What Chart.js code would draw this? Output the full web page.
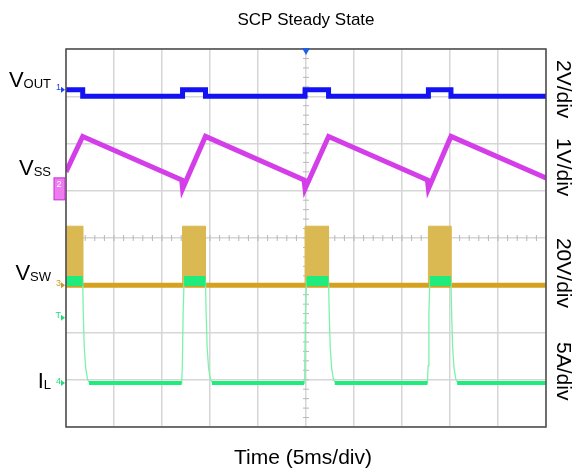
<!DOCTYPE html>
<html>
<head>
<meta charset="utf-8">
<script src="https://cdn.jsdelivr.net/npm/chart.js@4/dist/chart.umd.min.js"></script>
<style>
  html, body { margin: 0; padding: 0; background: #fff; }
  canvas { display: block; }
</style>
</head>
<body>
<canvas id="scope" width="576" height="470"></canvas>
<script>
// time in ms (5 ms/div), level in screen divisions (8 div, center = 0)

// VOUT (ch1, blue)
const voutTime  = [0, 1.74, 1.74, 12.14, 12.14, 14.53, 14.53, 24.9, 24.9, 27.35, 27.35, 37.75, 37.75, 40.1, 40.1, 50];
const voutLevel = [3.14, 3.14, 3.0, 3.0, 3.14, 3.14, 3.0, 3.0, 3.14, 3.14, 3.0, 3.0, 3.14, 3.14, 3.0, 3.0];

// VSS (ch2, magenta)
const vssTime  = [0, 1.74, 12.05, 12.14, 14.53, 24.8, 24.9, 27.35, 37.65, 37.75, 40.1, 50];
const vssLevel = [1.40, 2.15, 1.23, 1.04, 2.15, 1.23, 1.04, 2.15, 1.23, 1.04, 2.15, 1.27];

// VSW (ch3, gold) - switching bursts + baseline
const vswTime  = [0, 1.74, 1.74, 12.14, 12.14, 14.53, 14.53, 24.9, 24.9, 27.35, 27.35, 37.75, 37.75, 40.1, 40.1, 50];
const vswLevel = [0.25, 0.25, -1, -1, 0.25, 0.25, -1, -1, 0.25, 0.25, -1, -1, 0.25, 0.25, -1, -1];
const vswBaseTime  = [0, 50];
const vswBaseLevel = [-1, -1];

// IL (ch4, green)
const ilTime = [0, 1.74, 1.8, 1.9, 2.05, 2.25, 2.5,
                12.05, 12.12, 12.2, 12.3, 14.53, 14.6, 14.7, 14.85, 15.05, 15.3,
                24.8, 24.87, 24.95, 25.05, 27.35, 27.42, 27.52, 27.67, 27.87, 28.12,
                37.65, 37.72, 37.8, 37.9, 40.1, 40.17, 40.27, 40.42, 40.62, 40.87, 50];
const ilLevel = [-0.91, -0.91, -1.6, -2.3, -2.75, -3.0, -3.07,
                 -3.07, -2.7, -1.6, -0.91, -0.91, -1.6, -2.3, -2.75, -3.0, -3.07,
                 -3.07, -2.7, -1.6, -0.91, -0.91, -1.6, -2.3, -2.75, -3.0, -3.07,
                 -3.07, -2.7, -1.6, -0.91, -0.91, -1.6, -2.3, -2.75, -3.0, -3.07, -3.07];
const ilHighTime  = [0, 1.74, null, 12.3, 14.53, null, 25.05, 27.35, null, 37.9, 40.1];
const ilHighLevel = [-0.91, -0.91, null, -0.91, -0.91, null, -0.91, -0.91, null, -0.91, -0.91];
const ilLowTime  = [2.4, 12.05, null, 15.2, 24.8, null, 28.0, 37.65, null, 40.75, 50];
const ilLowLevel = [-3.07, -3.07, null, -3.07, -3.07, null, -3.07, -3.07, null, -3.07, -3.07];

const chanLabels = [
  { main: 'V', sub: 'OUT', level: 3.19 },
  { main: 'V', sub: 'SS',  level: 1.33 },
  { main: 'V', sub: 'SW',  level: -0.89 },
  { main: 'I', sub: 'L',   level: -3.17 }
];
const scaleLabels = [
  { text: '2V/div',  level: 3.15 },
  { text: '1V/div',  level: 1.5 },
  { text: '20V/div', level: -0.74 },
  { text: '5A/div',  level: -2.82 }
];

function pts(xs, ys) {
  return xs.map((x, i) => (x === null ? { x: NaN, y: null } : { x: x, y: ys[i] }));
}

const FONT = '"Liberation Sans", Arial, sans-serif';

const scopeDeco = {
  id: 'scopeDeco',
  beforeDatasetsDraw(chart) {
    const { ctx, scales: { x, y } } = chart;
    const cx = x.getPixelForValue(25), cy = y.getPixelForValue(0);
    ctx.save();
    ctx.strokeStyle = '#b8b8b8';
    ctx.lineWidth = 1;
    ctx.beginPath();
    for (let t = 0; t <= 50; t += 1) {
      const px = x.getPixelForValue(t);
      ctx.moveTo(px, cy - 3); ctx.lineTo(px, cy + 3);
    }
    for (let d = -4; d <= 4; d += 0.2) {
      const py = y.getPixelForValue(d);
      ctx.moveTo(cx - 3, py); ctx.lineTo(cx + 3, py);
    }
    ctx.stroke();
    ctx.restore();
  },
  afterDraw(chart) {
    const { ctx, chartArea: a, scales: { x, y } } = chart;
    ctx.save();
    // frame
    ctx.strokeStyle = '#4a4a4a';
    ctx.lineWidth = 1.5;
    ctx.strokeRect(a.left, a.top, a.right - a.left, a.bottom - a.top);

    // title + x title
    ctx.fillStyle = '#000';
    ctx.textAlign = 'center';
    ctx.textBaseline = 'alphabetic';
    ctx.font = '17px ' + FONT;
    ctx.fillText('SCP Steady State', (a.left + a.right) / 2, 25);
    ctx.font = '21px ' + FONT;
    ctx.fillText('Time (5ms/div)', (a.left + a.right) / 2 - 3, 464);

    // channel names on the left
    ctx.textAlign = 'left';
    chanLabels.forEach(l => {
      const by = y.getPixelForValue(l.level);
      ctx.font = '22px ' + FONT;
      const w1 = ctx.measureText(l.main).width;
      ctx.font = '13px ' + FONT;
      const w2 = ctx.measureText(l.sub).width;
      const x0 = 51 - w1 - w2;
      ctx.font = '22px ' + FONT;
      ctx.fillText(l.main, x0, by);
      ctx.font = '13px ' + FONT;
      ctx.fillText(l.sub, x0 + w1, by + 1);
    });

    // volts/div on the right, rotated
    ctx.font = '21px ' + FONT;
    ctx.textAlign = 'center';
    scaleLabels.forEach(l => {
      ctx.save();
      ctx.translate(557, y.getPixelForValue(l.level));
      ctx.rotate(Math.PI / 2);
      ctx.fillText(l.text, 0, 0);
      ctx.restore();
    });

    // trigger position marker
    const tx = x.getPixelForValue(25);
    ctx.fillStyle = '#1f5fe0';
    ctx.beginPath();
    ctx.moveTo(tx - 4, a.top - 1); ctx.lineTo(tx + 4, a.top - 1); ctx.lineTo(tx, a.top + 6);
    ctx.closePath(); ctx.fill();

    // channel ground markers
    const marks = [
      { n: '1', c: '#2040f0', level: 3.14 },
      { n: '3', c: '#c8962a', level: -1 },
      { n: 'T', c: '#22dd77', level: -1.69 },
      { n: '4', c: '#22dd77', level: -3.07 }
    ];
    ctx.font = '9px ' + FONT;
    ctx.textAlign = 'right';
    ctx.textBaseline = 'middle';
    marks.forEach(m => {
      const py = y.getPixelForValue(m.level);
      ctx.fillStyle = m.c;
      ctx.beginPath();
      ctx.moveTo(a.left - 5, py - 3); ctx.lineTo(a.left - 1, py); ctx.lineTo(a.left - 5, py + 3);
      ctx.closePath(); ctx.fill();
      ctx.fillText(m.n, a.left - 5, py - 2);
    });
    // ch2 boxed marker
    const p2 = y.getPixelForValue(1.04);
    ctx.fillStyle = '#ee7cf0';
    ctx.fillRect(a.left - 12, p2 - 11, 11, 22);
    ctx.strokeStyle = '#c030d0';
    ctx.lineWidth = 1;
    ctx.strokeRect(a.left - 12, p2 - 11, 11, 22);
    ctx.fillStyle = '#fff';
    ctx.textAlign = 'center';
    ctx.fillText('2', a.left - 7, p2 - 4);
    ctx.restore();
  }
};

new Chart(document.getElementById('scope'), {
  type: 'line',
  data: {
    datasets: [
      { label: 'VOUT', data: pts(voutTime, voutLevel), borderColor: '#1212f2', borderWidth: 5, order: 1 },
      { label: 'VSS', data: pts(vssTime, vssLevel), borderColor: '#d43ee9', borderWidth: 5, order: 2 },
      { label: 'IL band hi', data: pts(ilHighTime, ilHighLevel), borderColor: '#1fec7c', borderWidth: 10, borderCapStyle: 'butt', spanGaps: false, order: 3 },
      { label: 'IL band lo', data: pts(ilLowTime, ilLowLevel), borderColor: '#1fec7c', borderWidth: 4, spanGaps: false, order: 3 },
      { label: 'IL', data: pts(ilTime, ilLevel), borderColor: '#7cf3aa', borderWidth: 1.3, order: 4 },
      { label: 'VSW base', data: pts(vswBaseTime, vswBaseLevel), borderColor: '#d4a21f', borderWidth: 5, order: 5 },
      { label: 'VSW', data: pts(vswTime, vswLevel), borderColor: '#dbb952', borderWidth: 1,
        backgroundColor: '#dbb952', fill: { value: -1 }, order: 6 }
    ]
  },
  options: {
    responsive: false,
    animation: false,
    devicePixelRatio: 1,
    layout: { padding: { left: 66, right: 30, top: 49, bottom: 43 } },
    elements: { point: { radius: 0 }, line: { tension: 0 } },
    plugins: { legend: { display: false }, tooltip: { enabled: false }, title: { display: false } },
    scales: {
      x: {
        type: 'linear', min: 0, max: 50,
        ticks: { display: false, stepSize: 5 },
        grid: { color: '#d6d6d6', lineWidth: 1.5, drawTicks: false },
        border: { display: false }
      },
      y: {
        type: 'linear', min: -4, max: 4,
        ticks: { display: false, stepSize: 1 },
        grid: { color: '#d6d6d6', lineWidth: 1.5, drawTicks: false },
        border: { display: false }
      }
    }
  },
  plugins: [scopeDeco]
});
</script>
</body>
</html>
